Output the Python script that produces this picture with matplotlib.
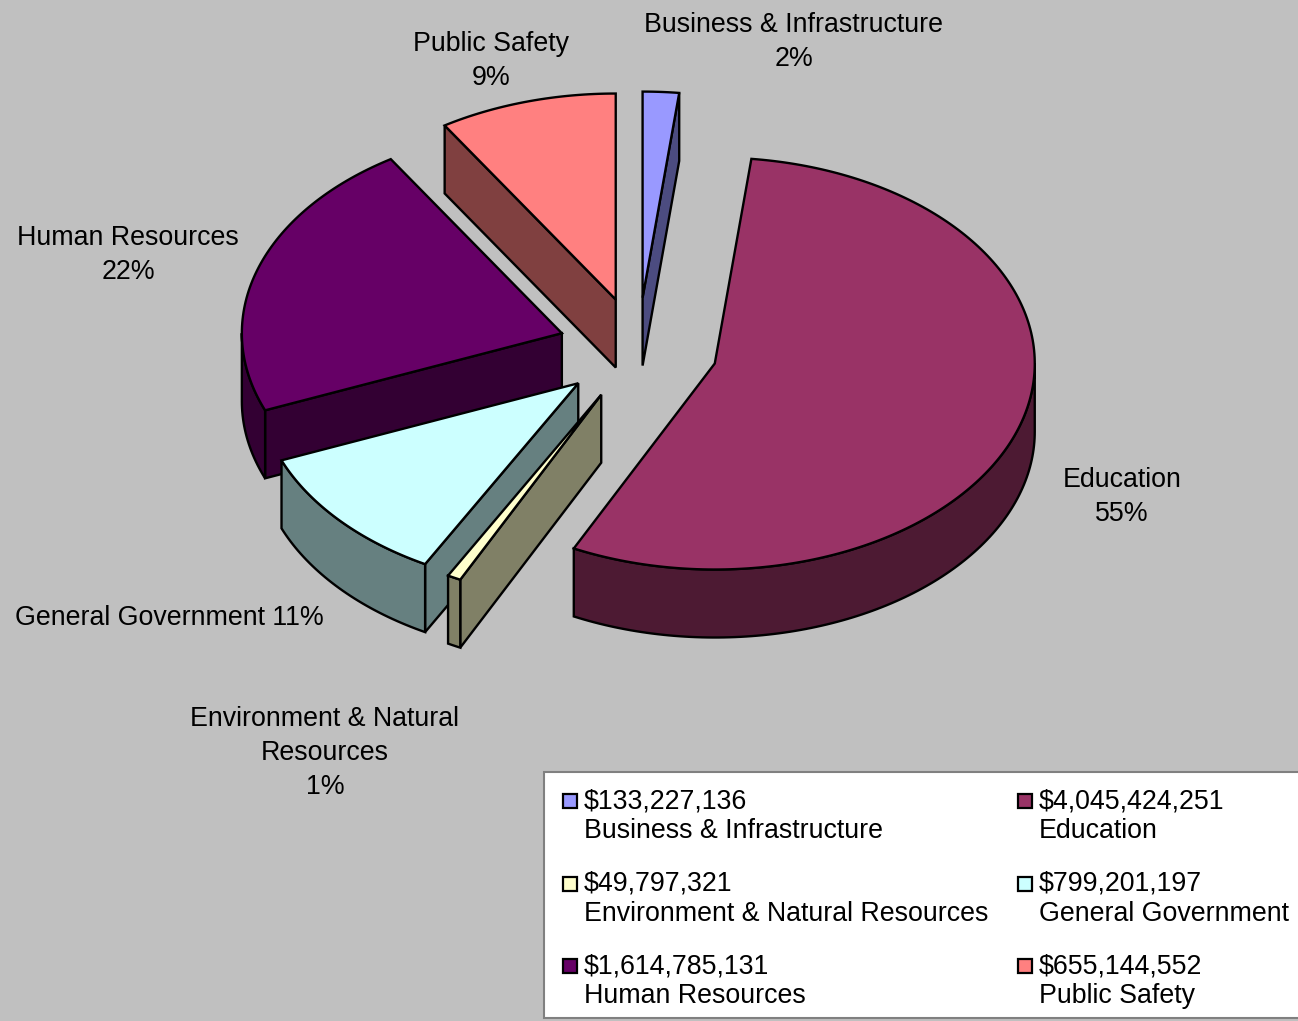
import numpy as np
import matplotlib
matplotlib.use("Agg")
import matplotlib.pyplot as plt
from matplotlib.patches import Polygon, Rectangle

# data, clockwise from 12 o'clock
categories = ["Business & Infrastructure", "Education", "Environment & Natural Resources",
              "General Government", "Human Resources", "Public Safety"]
label_names = ["Business & Infrastructure", "Education", "Environment & Natural\nResources",
               "General Government", "Human Resources", "Public Safety"]
label_seps = ["\n", "\n", "\n", " ", "\n", "\n"]
amounts = [133227136, 4045424251, 49797321, 799201197, 1614785131, 655144552]
top_colors = ["#9999FF", "#993366", "#FFFFCC", "#CCFFFF", "#660066", "#FF8080"]
side_colors = ["#4C4C80", "#4D1A33", "#808066", "#668080", "#330033", "#804040"]

# label centres (pixels)
label_pos = [(794, 42), (1122, 497), (325, 753), (169, 618), (128, 255), (491, 61)]

W, H = 1298, 1021
cx, cy, rx, ry, depth, explode = 638, 349, 320, 206, 68, 0.25

plt.rcParams["font.family"] = ["Liberation Sans", "DejaVu Sans"]
fig = plt.figure(figsize=(W / 100, H / 100), dpi=100)
fig.patch.set_facecolor("#C0C0C0")
ax = fig.add_axes([0, 0, 1, 1])
ax.set_xlim(0, W)
ax.set_ylim(H, 0)
ax.axis("off")

vals = np.array(amounts, dtype=float)
fracs = vals / vals.sum()
bounds = np.concatenate([[0], np.cumsum(fracs) * 360])


def point(t, mid, z=0.0):
    t, m = np.radians(t), np.radians(mid)
    x = cx + rx * (np.sin(t) + explode * np.sin(m))
    y = cy + ry * (-np.cos(t) - explode * np.cos(m)) + z
    return x, y


def tip(mid, z=0.0):
    m = np.radians(mid)
    return cx + rx * explode * np.sin(m), cy - ry * explode * np.cos(m) + z


def arc(a0, a1, mid, z=0.0):
    n = max(3, int(abs(a1 - a0)) + 2)
    return [point(t, mid, z) for t in np.linspace(a0, a1, n)]


lw = 1.7
slices = []
for i in range(len(vals)):
    a0, a1 = bounds[i], bounds[i + 1]
    mid = (a0 + a1) / 2
    slices.append((-np.cos(np.radians(mid)), i, a0, a1, mid))

z = 1
for _, i, a0, a1, mid in sorted(slices):
    tip_t, tip_b = tip(mid), tip(mid, depth)
    faces = []
    # radial faces that face the viewer
    if np.sin(np.radians(a0)) < -1e-6:
        faces.append([tip_t, point(a0, mid), point(a0, mid, depth), tip_b])
    if np.sin(np.radians(a1)) > 1e-6:
        faces.append([tip_t, point(a1, mid), point(a1, mid, depth), tip_b])
    # outer wall, front half only
    s0, s1 = max(a0, 90), min(a1, 270)
    if s1 > s0:
        faces.append(arc(s0, s1, mid) + arc(s0, s1, mid, depth)[::-1])
    for f in faces:
        ax.add_patch(Polygon(f, closed=True, facecolor=side_colors[i],
                             edgecolor="black", lw=lw, zorder=z))
        z += 1
    ax.add_patch(Polygon([tip_t] + arc(a0, a1, mid), closed=True,
                         facecolor=top_colors[i], edgecolor="black", lw=lw, zorder=z))
    z += 1

fs = 19.3
for i, name in enumerate(label_names):
    pct = f"{fracs[i] * 100:.0f}%"
    ax.text(label_pos[i][0], label_pos[i][1], name + label_seps[i] + pct,
            ha="center", va="center", fontsize=fs, linespacing=1.38, zorder=50)

# legend
ax.add_patch(Rectangle((544, 772), 800, 246, facecolor="white",
                       edgecolor="#808080", lw=1.5, zorder=60))
col_x = [563, 1018]
for i, cat in enumerate(categories):
    x = col_x[i % 2]
    y = 801 + (i // 2) * 82.5
    ax.add_patch(Rectangle((x, y - 7), 14, 14, facecolor=top_colors[i],
                           edgecolor="black", lw=1.6, zorder=61))
    ax.text(x + 21, y, f"${amounts[i]:,}", ha="left", va="center",
            fontsize=fs, zorder=62)
    ax.text(x + 21, y + 30, cat, ha="left", va="center",
            fontsize=fs, zorder=62)

fig.savefig("out.png", dpi=100, facecolor=fig.get_facecolor())
